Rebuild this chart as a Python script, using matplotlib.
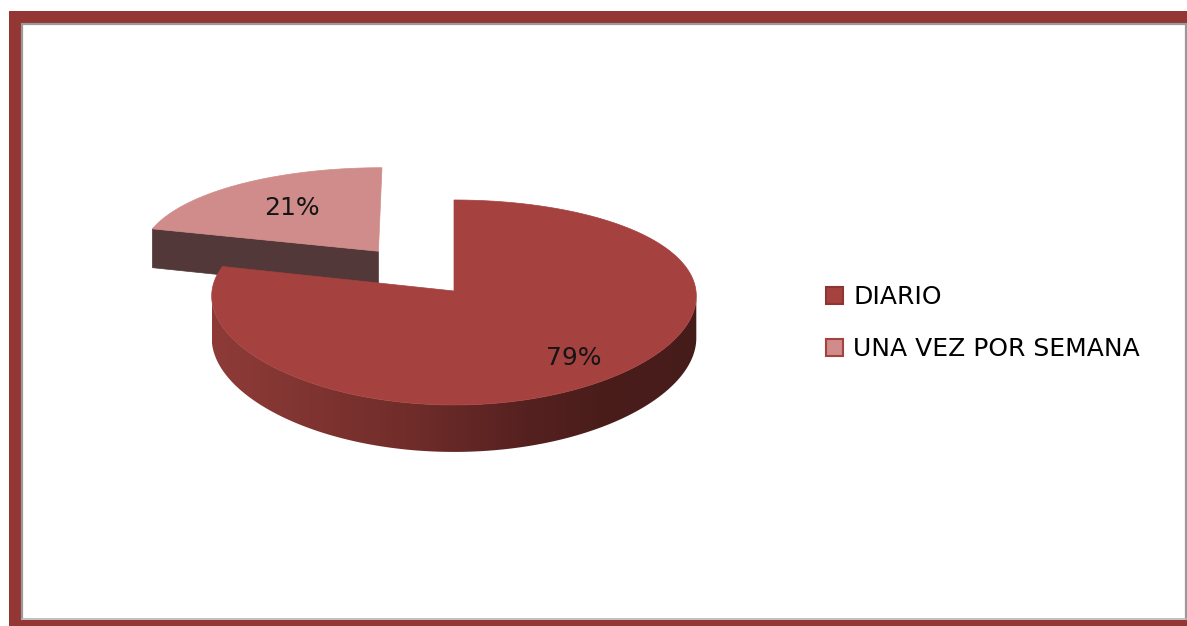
import numpy as np
import matplotlib.pyplot as plt
from matplotlib.patches import Polygon, Rectangle, Patch
from matplotlib.colors import LinearSegmentedColormap

# datos de la encuesta
labels = ['DIARIO', 'UNA VEZ POR SEMANA']
shares = [79, 21]
pct_labels = ['79%', '21%']

top_colors = ['#A5413F', '#CF8C8A']
edge_colors = ['#8C3532', '#A5413F']
cut_colors = ['#5E2624', '#523838']
explode = [0.0, 0.52]
label_r = [0.78, 0.62]
wall_cmap = LinearSegmentedColormap.from_list(
    'wall', [(0.0, '#8E3B38'), (0.4, '#712D2A'), (0.65, '#552120'),
             (0.8, '#4A1D1B'), (1.0, '#461C1A')])

FONT = ['DejaVu Sans']
FS = 18

# disco del pastel en perspectiva (u hacia la derecha, v hacia el fondo)
cx, cy = 454, 291
A, B = 242, 101.2
H = 41.7
kx, ky = 0.05, 0.112


def proj(u, v, z=0.0):
    x = cx + A * u / (1 + kx * v)
    y = cy - B * v / (1 + ky * v) + z * H / (1 + ky * v)
    return x, y


fig = plt.figure(figsize=(11.87, 6.26), dpi=100)
ax = fig.add_axes([0, 0, 1, 1])
ax.set_xlim(0, 1187)
ax.set_ylim(626, 0)
ax.axis('off')

# marco rojo
ax.add_patch(Rectangle((9, 11), 1200, 640, facecolor='#943634', edgecolor='none', zorder=0))
ax.add_patch(Rectangle((21, 23), 1200, 596.5, facecolor='white', edgecolor='none', zorder=0.5))
ax.plot([22.2, 22.2, 1185.5, 1185.5], [619, 24.2, 24.2, 619], color='#9a9a9a', lw=1.6,
        solid_joinstyle='miter', zorder=0.6)
ax.plot([22.2, 1185.5], [619, 619], color='#b5b5b5', lw=1.2, zorder=0.6)

total = sum(shares)
bounds = np.concatenate([[0], np.cumsum(shares)]) / total * 360.0
sil = np.degrees(np.arccos(-kx))
x_left = proj(np.sin(np.radians(360 - sil)), np.cos(np.radians(360 - sil)))[0]
x_right = proj(np.sin(np.radians(sil)), np.cos(np.radians(sil)))[0]
gradient = np.linspace(0, 1, 256).reshape(1, -1)

# orden de dibujo: primero las porciones más al fondo
mids = [(bounds[i] + bounds[i + 1]) / 2 for i in range(len(shares))]
order = sorted(range(len(shares)), key=lambda i: -explode[i] * np.cos(np.radians(mids[i])))

z = 1
for i in order:
    t0, t1 = bounds[i], bounds[i + 1]
    m = np.radians(mids[i])
    ou, ov = explode[i] * np.sin(m), explode[i] * np.cos(m)

    # pared exterior visible (mitad delantera) con degradado horizontal
    w0, w1 = max(t0, sil), min(t1, 360 - sil)
    if w1 > w0:
        th = np.radians(np.linspace(w0, w1, 300))
        u, v = ou + np.sin(th), ov + np.cos(th)
        xt, yt = proj(u, v, 0)
        xb, yb = proj(u, v, 1)
        wall = Polygon(list(zip(xt, yt)) + list(zip(xb[::-1], yb[::-1])), closed=True,
                       facecolor='none', edgecolor='none')
        ax.add_patch(wall)
        im = ax.imshow(gradient, cmap=wall_cmap, aspect='auto', interpolation='bilinear',
                       extent=(x_left, x_right, yb.max() + 2, yt.min() - 2), zorder=z)
        im.set_clip_path(wall)
        z += 1

    # caras de corte que miran al frente
    for t, visible in ((t0, np.sin(np.radians(t0)) < -1e-6),
                       (t1, np.sin(np.radians(t1)) > 1e-6)):
        if not visible:
            continue
        r = np.radians(t)
        pts = [proj(ou, ov, 0), proj(ou + np.sin(r), ov + np.cos(r), 0),
               proj(ou + np.sin(r), ov + np.cos(r), 1), proj(ou, ov, 1)]
        ax.add_patch(Polygon(pts, closed=True, facecolor=cut_colors[i],
                             edgecolor=cut_colors[i], linewidth=0.5, zorder=z))
        z += 1

    # cara superior
    th = np.radians(np.linspace(t0, t1, 300))
    xs, ys = proj(ou + np.sin(th), ov + np.cos(th), 0)
    x0, y0 = proj(ou, ov, 0)
    pts = [(x0, y0)] + list(zip(xs, ys))
    ax.add_patch(Polygon(pts, closed=True, facecolor=top_colors[i],
                         edgecolor=top_colors[i], linewidth=0.5, zorder=z))
    z += 1

    lx, ly = proj(ou + label_r[i] * np.sin(m), ov + label_r[i] * np.cos(m), 0)
    ax.text(lx, ly, pct_labels[i], ha='center', va='center', fontsize=FS,
            color='#151515', family=FONT, zorder=50)

ax.set_xlim(0, 1187)
ax.set_ylim(626, 0)

handles = [Patch(facecolor=top_colors[i], edgecolor=edge_colors[i], linewidth=1.5)
           for i in range(len(labels))]
ax.legend(handles, labels, loc='upper left', bbox_to_anchor=(826 / 1187, 1 - 285 / 626),
          frameon=False, borderpad=0, borderaxespad=0, handlelength=0.68,
          handleheight=0.68, handletextpad=0.4, labelspacing=1.14,
          prop={'family': FONT, 'size': FS})

fig.savefig('out.png', dpi=100)
